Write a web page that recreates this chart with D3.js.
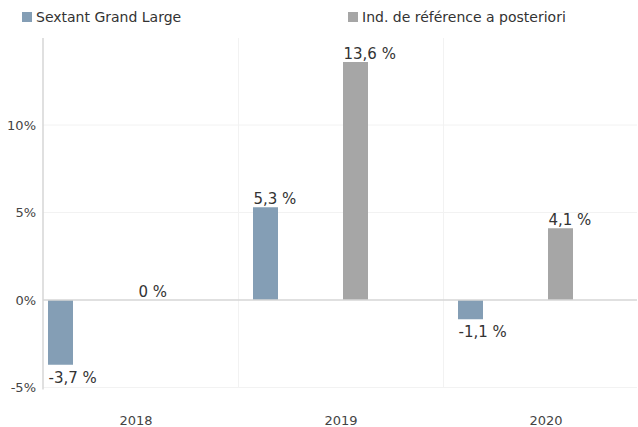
<!DOCTYPE html>
<html>
<head>
<meta charset="utf-8">
<script src="https://cdn.jsdelivr.net/npm/d3@7"></script>
<style>
  body { margin: 0; background: #fff; }
  text { font-family: "DejaVu Sans", sans-serif; }
</style>
</head>
<body>
<svg id="chart" width="638" height="427"></svg>
<script>
const years = ["2018", "2019", "2020"];
const seriesNames = ["Sextant Grand Large", "Ind. de référence a posteriori"];
const fundValues = [-3.7, 5.3, -1.1];
const indexValues = [0, 13.6, 4.1];
const yTicks = [-5, 0, 5, 10];
const colors = ["#849eb5", "#a6a6a6"];

const width = 638, height = 427;
const plotLeft = 43, plotRight = 637, plotTop = 38;

const svg = d3.select("#chart");

const y = d3.scaleLinear().domain([-5, 15]).range([387.5, 37.5]);
const x0 = d3.scaleBand().domain(years).range([33.5, 648.5]);
const x1 = d3.scaleBand().domain(seriesNames).range([14.5, 194.5]);
const barW = 25;

svg.append("defs").append("clipPath").attr("id", "plotclip")
    .append("rect").attr("x", plotLeft).attr("y", 0).attr("width", plotRight - plotLeft).attr("height", height);

// grid
const grid = svg.append("g").attr("clip-path", "url(#plotclip)");
grid.selectAll("line.h")
    .data(yTicks.filter(d => d !== 0))
    .enter().append("line")
    .attr("x1", plotLeft).attr("x2", plotRight)
    .attr("y1", d => y(d)).attr("y2", d => y(d))
    .attr("stroke", "#f2f2f2").attr("stroke-width", 1);
grid.selectAll("line.v")
    .data(years.slice(1))
    .enter().append("line")
    .attr("x1", d => x0(d)).attr("x2", d => x0(d))
    .attr("y1", plotTop).attr("y2", y(-5))
    .attr("stroke", "#f2f2f2").attr("stroke-width", 1);

// y axis
const yAxis = svg.append("g");
yAxis.append("line")
    .attr("x1", plotLeft).attr("x2", plotLeft)
    .attr("y1", plotTop).attr("y2", y(-5) + 2)
    .attr("stroke", "#d6d6d6").attr("stroke-width", 1.5);
yAxis.selectAll("text")
    .data(yTicks)
    .enter().append("text")
    .attr("x", 36).attr("y", d => y(d))
    .attr("dy", "0.35em")
    .attr("text-anchor", "end")
    .attr("font-size", 13).attr("fill", "#444")
    .text(d => d + "%");

// x labels
svg.selectAll("text.year")
    .data(years)
    .enter().append("text")
    .attr("class", "year")
    .attr("x", d => x0(d) + x0.bandwidth() / 2)
    .attr("y", 425)
    .attr("text-anchor", "middle")
    .attr("font-size", 13).attr("fill", "#444")
    .text(d => d);

// bars
const data = [];
years.forEach((yr, i) => {
    data.push({ year: yr, series: seriesNames[0], value: fundValues[i], color: colors[0] });
    data.push({ year: yr, series: seriesNames[1], value: indexValues[i], color: colors[1] });
});

const bars = svg.append("g").attr("clip-path", "url(#plotclip)");
bars.selectAll("rect")
    .data(data)
    .enter().append("rect")
    .attr("x", d => x0(d.year) + x1(d.series))
    .attr("y", d => y(Math.max(0, d.value)))
    .attr("width", barW)
    .attr("height", d => Math.abs(y(d.value) - y(0)))
    .attr("fill", d => d.color);

// zero line
svg.append("line")
    .attr("x1", plotLeft).attr("x2", plotRight)
    .attr("y1", y(0)).attr("y2", y(0))
    .attr("stroke", "#d6d6d6").attr("stroke-width", 1.5);

// value labels
const fmt = v => String(v).replace(".", ",") + " %";
svg.selectAll("text.val")
    .data(data)
    .enter().append("text")
    .attr("class", "val")
    .attr("x", d => x0(d.year) + x1(d.series) + 0.5)
    .attr("y", d => d.value < 0 ? y(d.value) + 18 : y(d.value) - 3)
    .attr("font-size", 15).attr("fill", "#333")
    .text(d => fmt(d.value));

// legend
const legendX = [22, 348];
const legend = svg.selectAll("g.legend")
    .data(seriesNames)
    .enter().append("g")
    .attr("transform", (d, i) => `translate(${legendX[i]},12)`);
legend.append("rect")
    .attr("width", 10).attr("height", 10)
    .attr("fill", (d, i) => colors[i]);
legend.append("text")
    .attr("x", 14).attr("y", 10)
    .attr("font-size", 14).attr("fill", "#333")
    .text(d => d);
</script>
</body>
</html>
